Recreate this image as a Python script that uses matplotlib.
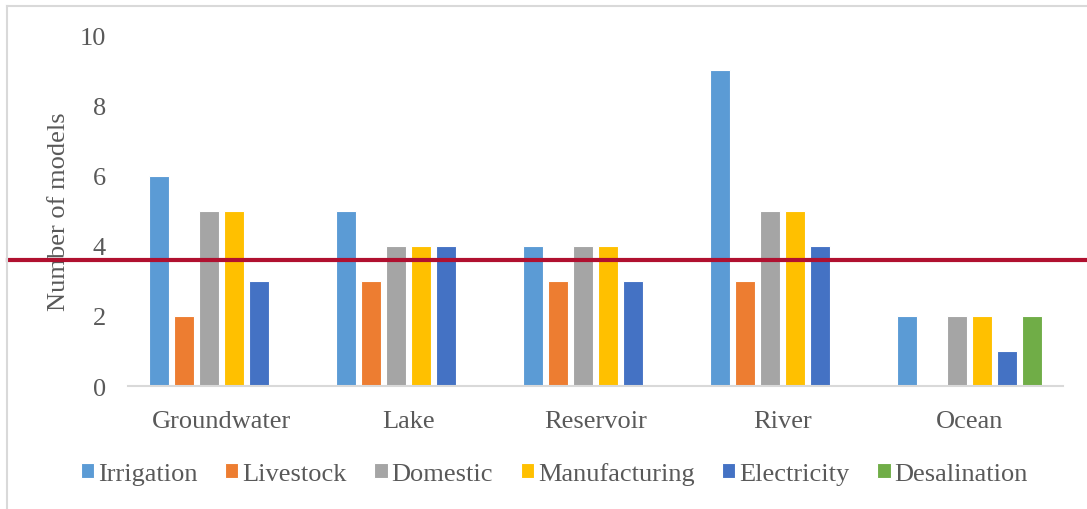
import numpy as np
import matplotlib.pyplot as plt
from matplotlib.lines import Line2D

plt.rcParams['font.family'] = ['Liberation Serif', 'DejaVu Serif']

# water sources and the number of models covering each use
sources = ['Groundwater', 'Lake', 'Reservoir', 'River', 'Ocean']
uses = ['Irrigation', 'Livestock', 'Domestic', 'Manufacturing', 'Electricity', 'Desalination']
irrigation = [6, 5, 4, 9, 2]
livestock = [2, 3, 3, 3, 0]
domestic = [5, 4, 4, 5, 2]
manufacturing = [5, 4, 4, 5, 2]
electricity = [3, 4, 3, 4, 1]
desalination = [0, 0, 0, 0, 2]
average_line = 3.6

series = [irrigation, livestock, domestic, manufacturing, electricity, desalination]
colors = ['#5B9BD5', '#ED7D31', '#A5A5A5', '#FFC000', '#4472C4', '#70AD47']
text_color = '#595959'

fig = plt.figure(figsize=(10.87, 5.1), dpi=100)
ax = fig.add_axes([0.1178, 0.241, 0.8602, 0.688])

x = np.arange(len(sources))
slot = 0.1337
for i, (vals, name, c) in enumerate(zip(series, uses, colors)):
    offs = (i - 2.5) * slot
    ax.bar(x + offs, vals, width=slot * 0.82, color=c, edgecolor='white',
           linewidth=0.8, label=name, zorder=2)

# horizontal reference line across the whole figure width
ax.axhline(average_line, xmin=-0.128, xmax=1.03, color='#B0102F', linewidth=3,
           clip_on=False, zorder=3)

ax.set_xlim(-0.5, len(sources) - 0.5)
ax.set_ylim(0, 10)
ax.set_yticks(range(0, 11, 2))
ax.set_xticks(x)
ax.set_xticklabels(sources)
ax.tick_params(axis='both', length=0, labelsize=19, colors=text_color)
ax.tick_params(axis='y', pad=16)
ax.tick_params(axis='x', pad=17)
ax.set_ylabel('Number of models', fontsize=19, color=text_color, labelpad=7)

for s in ['top', 'right', 'left']:
    ax.spines[s].set_visible(False)
ax.spines['bottom'].set_color('#D9D9D9')
ax.spines['bottom'].set_linewidth(1.5)

leg = fig.legend(loc='center', bbox_to_anchor=(0.51, 0.0705), ncol=6, frameon=False,
                 fontsize=19, handlelength=0.5, handleheight=0.5,
                 handletextpad=0.15, columnspacing=1.05, labelcolor=text_color)

# chart area border along the top and left
fig.add_artist(Line2D([0.0064, 1.0], [1 - 6.5 / 510] * 2, color='#D9D9D9', linewidth=1.5))
fig.add_artist(Line2D([0.0064, 0.0064], [0, 1 - 6.5 / 510], color='#D9D9D9', linewidth=1.5))

fig.savefig('out.png', dpi=100)
